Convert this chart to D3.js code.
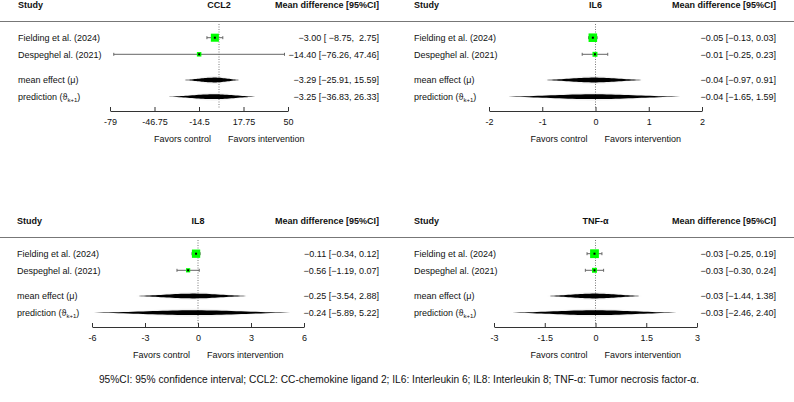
<!DOCTYPE html>
<html>
<head>
<meta charset="utf-8">
<script src="https://cdn.jsdelivr.net/npm/d3@7"></script>
<style>
  body { margin: 0; background: #fff; }
  svg { font-family: "Liberation Sans", Arial, sans-serif; }
  text { white-space: pre; }
</style>
</head>
<body>
<svg id="chart" width="794" height="402"></svg>
<script>
// study labels
var studies = ["Fielding et al. (2024)", "Despeghel al. (2021)"];
var outcomes = ["CCL2", "IL6", "IL8", "TNF-\u03b1"];

// per-study estimates [Fielding, Despeghel]
var ccl2Est = [-3.00, -14.40], ccl2Lo = [-8.75, -76.26], ccl2Hi = [2.75, 47.46];
var il6Est = [-0.05, -0.01], il6Lo = [-0.13, -0.25], il6Hi = [0.03, 0.23];
var il8Est = [-0.11, -0.56], il8Lo = [-0.34, -1.19], il8Hi = [0.12, 0.07];
var tnfEst = [-0.03, -0.03], tnfLo = [-0.25, -0.30], tnfHi = [0.19, 0.24];

// relative weights (square size)
var ccl2W = [0.8, 0.25], il6W = [0.9, 0.3], il8W = [0.85, 0.22], tnfW = [0.95, 0.3];

// summaries [estimate, lower, upper]
var ccl2Mu = [-3.29, -25.91, 15.59], ccl2Pred = [-3.25, -36.83, 26.33];
var il6Mu = [-0.04, -0.97, 0.91], il6Pred = [-0.04, -1.65, 1.59];
var il8Mu = [-0.25, -3.54, 2.88], il8Pred = [-0.24, -5.89, 5.22];
var tnfMu = [-0.03, -1.44, 1.38], tnfPred = [-0.03, -2.46, 2.40];

// axis ticks
var ccl2Ticks = [-79, -46.75, -14.5, 17.75, 50];
var il6Ticks = [-2, -1, 0, 1, 2];
var il8Ticks = [-6, -3, 0, 3, 6];
var tnfTicks = [-3, -1.5, 0, 1.5, 3];

var footnote = "95%CI: 95% confidence interval; CCL2: CC-chemokine ligand 2; IL6: Interleukin 6; IL8: Interleukin 8; TNF-\u03b1: Tumor necrosis factor-\u03b1.";

var panels = [
  {title: outcomes[0], est: ccl2Est, lo: ccl2Lo, hi: ccl2Hi, w: ccl2W, mu: ccl2Mu, pred: ccl2Pred, ticks: ccl2Ticks,
   oy: 0, left: 18, right: 379, range: [110, 288], lineX: [0, 397]},
  {title: outcomes[1], est: il6Est, lo: il6Lo, hi: il6Hi, w: il6W, mu: il6Mu, pred: il6Pred, ticks: il6Ticks,
   oy: 0, left: 414, right: 776, range: [489, 702], lineX: [397, 794]},
  {title: outcomes[2], est: il8Est, lo: il8Lo, hi: il8Hi, w: il8W, mu: il8Mu, pred: il8Pred, ticks: il8Ticks,
   oy: 216, left: 17, right: 379, range: [92, 304], lineX: [0, 397]},
  {title: outcomes[3], est: tnfEst, lo: tnfLo, hi: tnfHi, w: tnfW, mu: tnfMu, pred: tnfPred, ticks: tnfTicks,
   oy: 216, left: 414, right: 776, range: [494, 697], lineX: [397, 794]}
];

var svg = d3.select("#chart");
var fs = 9;
var fmt = d3.format(".2f");
var sizeScale = d3.scaleSqrt().domain([0, 1]).range([0, 9]);

function ciLabel (e, l, h, wl, wh) {
	return fmt(e) + " [" + fmt(l).padStart(wl, " ") + ", " + fmt(h).padStart(wh, " ") + "]";
}

// tapered density-like outline between lo and hi with peak at est
function spindle (x, est, lo, hi, y, hh) {
	var n = 40;
	var c = Math.exp(-0.5 * 1.96 * 1.96);
	function half (v) {
		var s = v < est ? (est - lo) / 1.96 : (hi - est) / 1.96;
		var z = (v - est) / s;
		return hh * Math.max(0, (Math.exp(-0.5 * z * z) - c) / (1 - c));
	}
	var xs = d3.range(n + 1).map(function (i) { return lo + (hi - lo) * i / n; });
	xs.push(est);
	xs.sort(d3.ascending);
	var pts = xs.map(function (v) { return [x(v), y - half(v)]; })
		.concat(xs.slice().reverse().map(function (v) { return [x(v), y + half(v)]; }));
	return d3.line()(pts) + "Z";
}

panels.forEach(function (p) {
	var g = svg.append("g").attr("transform", "translate(0," + p.oy + ")");
	var x = d3.scaleLinear().domain([p.ticks[0], p.ticks[p.ticks.length - 1]]).range(p.range);
	var rowY = [37.7, 54.3, 80, 96.7];
	var axisY = 109;

	// headers
	g.append("text").attr("x", p.left).attr("y", 8).attr("font-size", fs).attr("font-weight", "bold")
		.attr("fill", "#111").text("Study");
	g.append("text").attr("x", x(0)).attr("y", 8).attr("font-size", fs).attr("font-weight", "bold")
		.attr("text-anchor", "middle").attr("fill", "#111").text(p.title);
	g.append("text").attr("x", p.right).attr("y", 8).attr("font-size", fs).attr("font-weight", "bold")
		.attr("text-anchor", "end").attr("fill", "#111").text("Mean difference [95%CI]");
	g.append("line").attr("x1", p.lineX[0]).attr("x2", p.lineX[1]).attr("y1", 21.5).attr("y2", 21.5)
		.attr("stroke", "#777").attr("stroke-width", 1.2);

	// zero reference
	g.append("line").attr("x1", x(0)).attr("x2", x(0)).attr("y1", 24).attr("y2", axisY)
		.attr("stroke", "#555").attr("stroke-width", 0.8).attr("stroke-dasharray", "1,1.5");

	var allLo = p.lo.concat([p.mu[1], p.pred[1]]).map(fmt);
	var allHi = p.hi.concat([p.mu[2], p.pred[2]]).map(fmt);
	var wl = d3.max(allLo, function (s) { return s.length; });
	var wh = d3.max(allHi, function (s) { return s.length; });

	// studies
	studies.forEach(function (s, i) {
		var y = rowY[i];
		g.append("text").attr("x", p.left).attr("y", y + 3.3).attr("font-size", fs).attr("fill", "#111").text(s);
		g.append("text").attr("x", p.right).attr("y", y + 3.3).attr("font-size", fs).attr("text-anchor", "end")
			.attr("fill", "#111").text(ciLabel(p.est[i], p.lo[i], p.hi[i], wl, wh));
		g.append("line").attr("x1", x(p.lo[i])).attr("x2", x(p.hi[i])).attr("y1", y).attr("y2", y)
			.attr("stroke", "#666").attr("stroke-width", 1);
		[p.lo[i], p.hi[i]].forEach(function (v) {
			g.append("line").attr("x1", x(v)).attr("x2", x(v)).attr("y1", y - 1.5).attr("y2", y + 1.5)
				.attr("stroke", "#666").attr("stroke-width", 1);
		});
		var sz = sizeScale(p.w[i]);
		g.append("rect").attr("x", x(p.est[i]) - sz / 2).attr("y", y - sz / 2).attr("width", sz).attr("height", sz)
			.attr("fill", "#00ff00");
		g.append("rect").attr("x", x(p.est[i]) - 1).attr("y", y - 1).attr("width", 2).attr("height", 2)
			.attr("fill", "#000");
	});

	// summaries
	[p.mu, p.pred].forEach(function (d, j) {
		var y = rowY[2 + j];
		var t = g.append("text").attr("x", p.left).attr("y", y + 3.3).attr("font-size", fs).attr("fill", "#111");
		if (j === 0) {
			t.text("mean effect (\u03bc)");
		} else {
			t.append("tspan").text("prediction (\u03d1");
			t.append("tspan").attr("font-size", 6).attr("dy", 2).text("k+1");
			t.append("tspan").attr("dy", -2).text(")");
		}
		g.append("text").attr("x", p.right).attr("y", y + 3.3).attr("font-size", fs).attr("text-anchor", "end")
			.attr("fill", "#111").text(ciLabel(d[0], d[1], d[2], wl, wh));
		g.append("path").attr("d", spindle(x, d[0], d[1], d[2], y, 4))
			.attr("fill", "#000").attr("opacity", 0.05);
		g.append("path").attr("d", spindle(x, d[0], d[1], d[2], y, 2.4))
			.attr("fill", "#000");
	});

	// axis
	var axis = d3.axisBottom(x).tickValues(p.ticks).tickSize(-4).tickSizeOuter(0)
		.tickFormat(function (d) { return String(d); });
	var ag = g.append("g").attr("transform", "translate(0," + (axisY + 2) + ")").call(axis);
	ag.select(".domain").attr("stroke", "#333");
	ag.selectAll(".tick line").attr("stroke", "#333");
	ag.selectAll(".tick text").attr("font-size", fs).attr("fill", "#111")
		.attr("font-family", "Liberation Sans, Arial, sans-serif").attr("y", 14).attr("dy", 0);

	g.append("text").attr("x", x(0) - 8).attr("y", 141.5).attr("font-size", fs).attr("text-anchor", "end")
		.attr("fill", "#111").text("Favors control");
	g.append("text").attr("x", x(0) + 9).attr("y", 141.5).attr("font-size", fs)
		.attr("fill", "#111").text("Favors intervention");
});

svg.append("text").attr("x", 399).attr("y", 383).attr("font-size", 10.2).attr("text-anchor", "middle")
	.attr("fill", "#111").text(footnote);
</script>
</body>
</html>
